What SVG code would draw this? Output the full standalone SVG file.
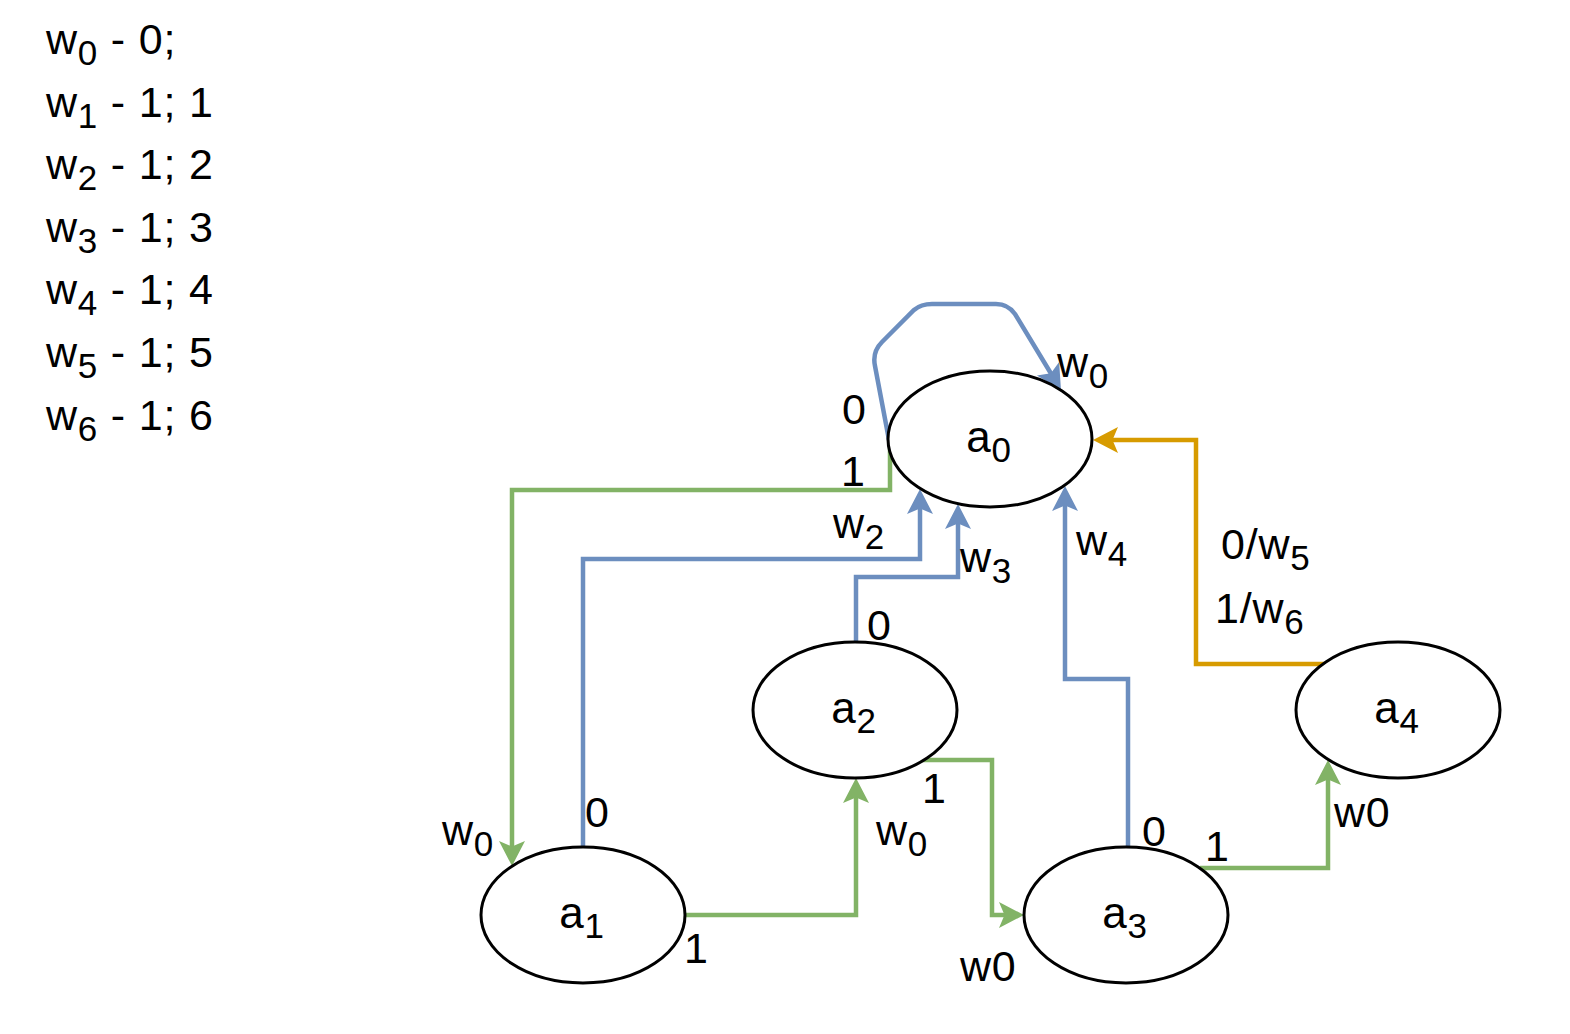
<svg xmlns="http://www.w3.org/2000/svg" width="1570" height="1034" viewBox="0 0 1570 1034">
  <style>
    text { font-family: "Liberation Sans", Arial, Helvetica, sans-serif; font-size: 43px; letter-spacing: 0.8px; fill: #000; white-space: pre; }
    .sub { font-size: 35px; }
    .node text { font-size: 44px; }
    .node .sub { font-size: 35px; }
    .node ellipse { fill: #fff; stroke: #000; stroke-width: 3; }
    .edge { fill: none; stroke-width: 4.5; stroke-linejoin: miter; }
    .green { stroke: #82b366; }
    .blue { stroke: #6c8ebf; }
    .orange { stroke: #d79b00; }
  </style>
  <defs>
    <marker id="arrow-green" markerUnits="userSpaceOnUse" markerWidth="30" markerHeight="30" refX="15" refY="13" orient="auto" overflow="visible">
      <path d="M25,13 L0,0 L5.5,13 L0,26 Z" fill="#82b366"/>
    </marker>
    <marker id="arrow-blue" markerUnits="userSpaceOnUse" markerWidth="30" markerHeight="30" refX="15" refY="13" orient="auto" overflow="visible">
      <path d="M25,13 L0,0 L5.5,13 L0,26 Z" fill="#6c8ebf"/>
    </marker>
    <marker id="arrow-orange" markerUnits="userSpaceOnUse" markerWidth="30" markerHeight="30" refX="15" refY="13" orient="auto" overflow="visible">
      <path d="M25,13 L0,0 L5.5,13 L0,26 Z" fill="#d79b00"/>
    </marker>
  </defs>

  <!-- legend -->
  <g id="legend">
    <text x="46" y="54">w<tspan class="sub" dy="11">0</tspan><tspan dy="-11"> - 0;</tspan></text>
    <text x="46" y="117">w<tspan class="sub" dy="11">1</tspan><tspan dy="-11"> - 1; 1</tspan></text>
    <text x="46" y="179">w<tspan class="sub" dy="11">2</tspan><tspan dy="-11"> - 1; 2</tspan></text>
    <text x="46" y="242">w<tspan class="sub" dy="11">3</tspan><tspan dy="-11"> - 1; 3</tspan></text>
    <text x="46" y="304">w<tspan class="sub" dy="11">4</tspan><tspan dy="-11"> - 1; 4</tspan></text>
    <text x="46" y="367">w<tspan class="sub" dy="11">5</tspan><tspan dy="-11"> - 1; 5</tspan></text>
    <text x="46" y="430">w<tspan class="sub" dy="11">6</tspan><tspan dy="-11"> - 1; 6</tspan></text>
  </g>

  <!-- connectors -->
  <g id="connectors">
    <!-- a0 self loop -->
    <path class="edge blue" d="M889,440 L875,366 Q872,352 882,342 L914,310 Q921,304 932,304 L996,304 Q1008,304 1015,314 L1055.8,381.5" marker-end="url(#arrow-blue)"/>
    <!-- a0 -> a1 -->
    <path class="edge green" d="M890,440 L890,490 L512,490 L512,856" marker-end="url(#arrow-green)"/>
    <!-- a1 -> a0 -->
    <path class="edge blue" d="M583,848 L583,559 L920,559 L920,499" marker-end="url(#arrow-blue)"/>
    <!-- a1 -> a2 -->
    <path class="edge green" d="M685,915 L856,915 L856,788" marker-end="url(#arrow-green)"/>
    <!-- a2 -> a0 -->
    <path class="edge blue" d="M856,643 L856,577 L958,577 L958,514" marker-end="url(#arrow-blue)"/>
    <!-- a2 -> a3 -->
    <path class="edge green" d="M923,760 L992,760 L992,915 L1014,915" marker-end="url(#arrow-green)"/>
    <!-- a3 -> a0 -->
    <path class="edge blue" d="M1128,848 L1128,679 L1065,679 L1065,496" marker-end="url(#arrow-blue)"/>
    <!-- a3 -> a4 -->
    <path class="edge green" d="M1200,868 L1328,868 L1328,770" marker-end="url(#arrow-green)"/>
    <!-- a4 -> a0 -->
    <path class="edge orange" d="M1324,664 L1196,664 L1196,440 L1103,440" marker-end="url(#arrow-orange)"/>

    <!-- edge labels -->
    <text x="842" y="424">0</text>
    <text x="841" y="486">1</text>
    <text x="1057" y="377">w<tspan class="sub" dy="11">0</tspan></text>
    <text x="833" y="538">w<tspan class="sub" dy="11">2</tspan></text>
    <text x="960" y="572">w<tspan class="sub" dy="11">3</tspan></text>
    <text x="1076" y="555">w<tspan class="sub" dy="11">4</tspan></text>
    <text x="1221" y="559">0/w<tspan class="sub" dy="11">5</tspan></text>
    <text x="1215" y="623">1/w<tspan class="sub" dy="11">6</tspan></text>
    <text x="867" y="640">0</text>
    <text x="922" y="803">1</text>
    <text x="876" y="845">w<tspan class="sub" dy="11">0</tspan></text>
    <text x="585" y="827">0</text>
    <text x="442" y="845">w<tspan class="sub" dy="11">0</tspan></text>
    <text x="684" y="963">1</text>
    <text x="960" y="981">w0</text>
    <text x="1142" y="846">0</text>
    <text x="1205" y="861">1</text>
    <text x="1334" y="827">w0</text>
  </g>

  <!-- nodes -->
  <g id="a0" class="node">
    <ellipse cx="990" cy="439" rx="102" ry="68"/>
    <text x="989" y="452" text-anchor="middle">a<tspan class="sub" dy="10">0</tspan></text>
  </g>
  <g id="a1" class="node">
    <ellipse cx="583" cy="915" rx="102" ry="68"/>
    <text x="582" y="928" text-anchor="middle">a<tspan class="sub" dy="10">1</tspan></text>
  </g>
  <g id="a2" class="node">
    <ellipse cx="855" cy="710" rx="102" ry="68"/>
    <text x="854" y="723" text-anchor="middle">a<tspan class="sub" dy="10">2</tspan></text>
  </g>
  <g id="a3" class="node">
    <ellipse cx="1126" cy="915" rx="102" ry="68"/>
    <text x="1125" y="928" text-anchor="middle">a<tspan class="sub" dy="10">3</tspan></text>
  </g>
  <g id="a4" class="node">
    <ellipse cx="1398" cy="710" rx="102" ry="68"/>
    <text x="1397" y="723" text-anchor="middle">a<tspan class="sub" dy="10">4</tspan></text>
  </g>
</svg>
